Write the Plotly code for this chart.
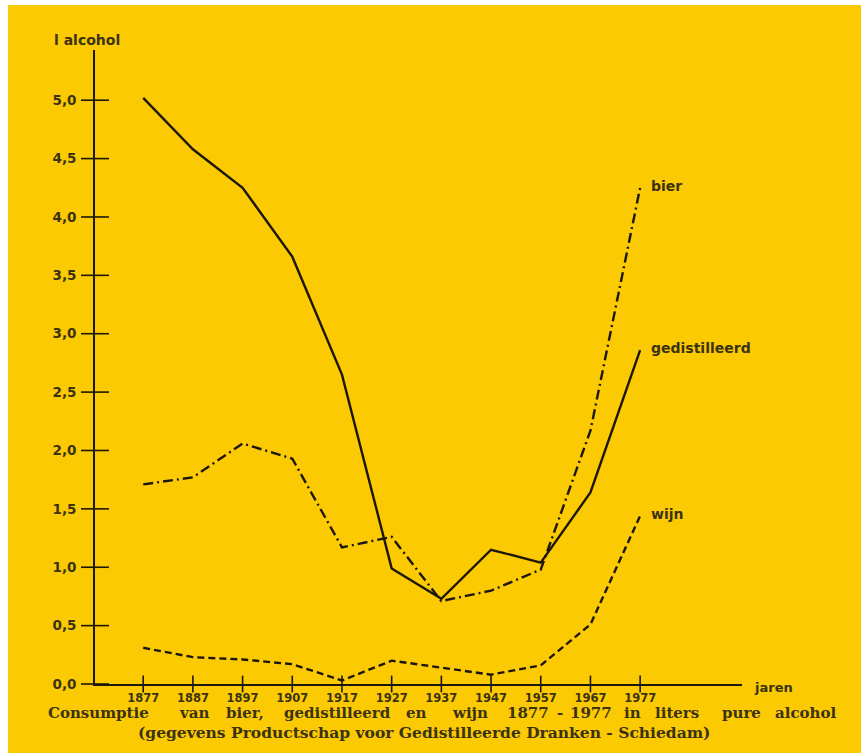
import plotly.graph_objects as go

# ---------------- data ----------------
years = [1877, 1887, 1897, 1907, 1917, 1927, 1937, 1947, 1957, 1967, 1977]
gedistilleerd = [5.02, 4.58, 4.25, 3.66, 2.65, 0.99, 0.73, 1.15, 1.04, 1.64, 2.86]
bier = [1.71, 1.77, 2.06, 1.93, 1.17, 1.26, 0.71, 0.80, 0.98, 2.17, 4.25]
wijn = [0.31, 0.23, 0.21, 0.17, 0.03, 0.20, 0.14, 0.08, 0.16, 0.51, 1.44]
y_ticks = [0.0, 0.5, 1.0, 1.5, 2.0, 2.5, 3.0, 3.5, 4.0, 4.5, 5.0]
y_tick_labels = ["0,0", "0,5", "1,0", "1,5", "2,0", "2,5", "3,0", "3,5", "4,0", "4,5", "5,0"]
x_tick_labels = [str(y) for y in years]
series_names = ["gedistilleerd", "bier", "wijn"]
caption_line1 = ["Consumptie", "van", "bier,", "gedistilleerd", "en", "wijn",
                 "1877", "-", "1977", "in", "liters", "pure", "alcohol"]
caption_line2 = "(gegevens Productschap voor Gedistilleerde Dranken - Schiedam)"

# ---------------- layout geometry ----------------
W, H = 861, 753
L, R, T, B = 95, 119, 50, 69
PW, PH = W - L - R, H - T - B
XMIN, XMAX = 1867.3, 1997.5
YMIN, YMAX = 0.0, 5.43

YELLOW = "#FCCA02"
INK = "#1c170a"
TXT = "#3b3212"


def px(xp):
    return (xp - L) / PW


def py(yp):
    return (H - B - yp) / PH


fig = go.Figure()

fig.add_trace(go.Scatter(x=years, y=gedistilleerd, mode="lines", name=series_names[0],
                         line=dict(color=INK, width=2.4)))
fig.add_trace(go.Scatter(x=years, y=bier, mode="lines", name=series_names[1],
                         line=dict(color=INK, width=2.4, dash="10px,4px,2px,4px")))
fig.add_trace(go.Scatter(x=years, y=wijn, mode="lines", name=series_names[2],
                         line=dict(color=INK, width=2.4, dash="7px,4px")))

# tick marks crossing the axes
fig.add_trace(go.Scatter(x=[XMIN] * len(y_ticks), y=y_ticks, mode="markers",
                         marker=dict(symbol="line-ew-open", size=20, color=INK,
                                     line=dict(color=INK, width=1.6)),
                         cliponaxis=False, hoverinfo="skip"))
fig.add_trace(go.Scatter(x=years, y=[0] * len(years), mode="markers",
                         marker=dict(symbol="line-ns-open", size=12, color=INK,
                                     line=dict(color=INK, width=1.6)),
                         cliponaxis=False, hoverinfo="skip"))

annotations = []
# series end labels
for name, vals in zip(series_names, [gedistilleerd, bier, wijn]):
    annotations.append(dict(x=years[-1], y=vals[-1], xref="x", yref="y",
                            text=name, showarrow=False, xanchor="left", yanchor="middle",
                            xshift=9, yshift=2,
                            font=dict(family="DejaVu Sans", size=14, color=TXT, weight="bold")))

annotations.append(dict(x=px(87), y=py(40), xref="paper", yref="paper", text="l alcohol",
                        showarrow=False, xanchor="center", yanchor="middle",
                        font=dict(family="DejaVu Sans", size=14, color=TXT, weight="bold")))
annotations.append(dict(x=px(773), y=py(687), xref="paper", yref="paper", text="jaren",
                        showarrow=False, xanchor="center", yanchor="middle",
                        font=dict(family="DejaVu Sans", size=13, color=TXT, weight="bold")))

# caption line 1 (justified as in the print)
word_x = [46, 177, 224, 282, 404, 450, 505, 555, 568, 622, 653, 720, 773]
for w, xp in zip(caption_line1, word_x):
    annotations.append(dict(x=px(xp), y=py(713), xref="paper", yref="paper", text=w,
                            showarrow=False, xanchor="left", yanchor="middle",
                            font=dict(family="DejaVu Serif", size=15, color=TXT, weight="bold")))
annotations.append(dict(x=px(424), y=py(732), xref="paper", yref="paper", text=caption_line2,
                        showarrow=False, xanchor="center", yanchor="middle",
                        font=dict(family="DejaVu Serif", size=15.5, color=TXT, weight="bold")))

shapes = [
    dict(type="rect", xref="paper", yref="paper", x0=px(0), x1=px(8), y0=py(H), y1=py(0),
         fillcolor="white", line=dict(width=0), layer="below"),
    dict(type="rect", xref="paper", yref="paper", x0=px(0), x1=px(W), y0=py(5), y1=py(0),
         fillcolor="white", line=dict(width=0), layer="below"),
]

fig.update_layout(
    width=W, height=H,
    margin=dict(l=L, r=R, t=T, b=B, pad=0),
    paper_bgcolor=YELLOW, plot_bgcolor=YELLOW,
    showlegend=False,
    annotations=annotations,
    shapes=shapes,
    xaxis=dict(range=[XMIN, XMAX], showgrid=False, zeroline=False,
               showline=True, linecolor=INK, linewidth=1.6,
               tickmode="array", tickvals=years, ticktext=x_tick_labels,
               ticks="", ticklabelstandoff=2,
               tickfont=dict(family="DejaVu Sans", size=11.5, color=TXT, weight="bold")),
    yaxis=dict(range=[YMIN, YMAX], showgrid=False, zeroline=False,
               showline=True, linecolor=INK, linewidth=1.6,
               tickmode="array", tickvals=y_ticks, ticktext=y_tick_labels,
               ticks="", ticklabelstandoff=14,
               tickfont=dict(family="DejaVu Sans", size=13.5, color=TXT, weight="bold")),
)

fig.write_html("out.html", config={"displayModeBar": False},
               post_script="document.body.style.margin='0';")
